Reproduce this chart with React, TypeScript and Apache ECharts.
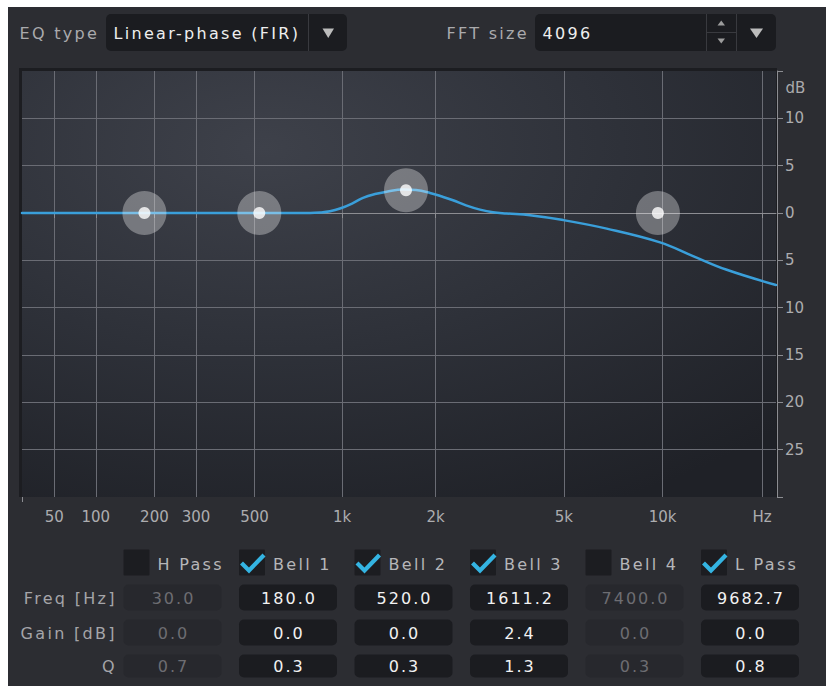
import React, { useEffect, useRef } from "react";
import * as echarts from "echarts";

// ---------- data ----------
const eqTypeLabel = "EQ type";
const eqTypeValue = "Linear-phase (FIR)";
const fftLabel = "FFT size";
const fftValue = "4096";

const tickFreqs = [50, 100, 200, 300, 500, 1000, 2000, 5000, 10000, 20000];
const tickLabels = ["50", "100", "200", "300", "500", "1k", "2k", "5k", "10k", "Hz"];
const freqMin = 20;
const freqMax = 22050;
const dbMin = -30;
const dbMax = 15;
const dbStep = 5;
const dbUnit = "dB";

// response curve (Hz, dB)
const curveFreq = [20, 200, 500, 781, 844, 911, 984, 1078, 1171, 1281, 1397, 1576, 1734, 1920, 2080, 2269, 2492, 2756, 3025, 3336, 3937, 4983, 6765, 9828, 12374, 15650, 22050];
const curveGain = [0, 0, 0, 0, 0.05, 0.18, 0.47, 1.0, 1.6, 2.0, 2.25, 2.48, 2.42, 2.12, 1.77, 1.35, 0.81, 0.36, 0.08, -0.05, -0.24, -0.75, -1.65, -3.1, -4.55, -6.0, -7.6];

const bandNames = ["H Pass", "Bell 1", "Bell 2", "Bell 3", "Bell 4", "L Pass"];
const bandEnabled = [false, true, true, true, false, true];
const bandFreq = [30.0, 180.0, 520.0, 1611.2, 7400.0, 9682.7];
const bandGain = [0.0, 0.0, 0.0, 2.4, 0.0, 0.0];
const bandQ = [0.7, 0.3, 0.3, 1.3, 0.3, 0.8];
const rowLabels = ["Freq [Hz]", "Gain [dB]", "Q"];

// ---------- helpers ----------
// frequency axis warp used by the display (log of f + 100)
const warp = (f: number) => Math.log(f + 100);

const FONT = '"DejaVu Sans", Verdana, sans-serif';
const UI_SIZE = 16;
const UI_TRACK = 2.3;
const VAL_TRACK = 2.0;

export default function App() {
  const ref = useRef<HTMLDivElement>(null);

  useEffect(() => {
    const el = ref.current!;
    const chart = echarts.init(el, null, { renderer: "svg" });
    const tracked = new Map<string, number>();

    const text = (
      s: string,
      x: number,
      y: number,
      fill: string,
      align: "left" | "center" | "right" = "left",
      track = 0,
      size = UI_SIZE
    ) => {
      if (track) tracked.set(s, track);
      const dx = align === "center" ? track / 2 : align === "right" ? track : 0;
      return {
        type: "text",
        x: x + dx,
        y,
        z: 5,
        style: {
          text: s,
          fill,
          font: `${size}px ${FONT}`,
          align,
          verticalAlign: "middle",
        },
      };
    };

    const g: any[] = [];
    // panel background
    g.push({ type: "rect", z: -20, shape: { x: 8, y: 7, width: 818, height: 679 }, style: { fill: "#2c2d32" } });
    // plot frame + background
    g.push({ type: "rect", z: -16, shape: { x: 19, y: 68, width: 758, height: 429 }, style: { fill: "#1c1d21" } });
    g.push({
      type: "rect",
      z: -15,
      shape: { x: 22, y: 71, width: 754, height: 426 },
      style: {
        fill: new echarts.graphic.RadialGradient(0.32, 0.18, 0.95, [
          { offset: 0, color: "#3e414a" },
          { offset: 0.5, color: "#2e3139" },
          { offset: 1, color: "#1f2127" },
        ]),
      },
    });

    // top bar
    g.push(text(eqTypeLabel, 19.5, 33.5, "#aaaaad", "left", UI_TRACK));
    g.push({ type: "rect", z: 1, shape: { x: 106, y: 14, width: 241, height: 37, r: 5 }, style: { fill: "#1b1c20" } });
    g.push({ type: "line", z: 2, shape: { x1: 308.5, y1: 14, x2: 308.5, y2: 51 }, style: { stroke: "#393a3f", lineWidth: 1 } });
    g.push(text(eqTypeValue, 113.5, 33.5, "#eeeeee", "left", UI_TRACK));
    g.push({ type: "polygon", z: 2, shape: { points: [[322.5, 28.5], [334, 28.5], [328.25, 38]] }, style: { fill: "#bcbcbc" } });

    g.push(text(fftLabel, 446.5, 33.5, "#aaaaad", "left", UI_TRACK));
    g.push({ type: "rect", z: 1, shape: { x: 535, y: 14, width: 241, height: 37, r: 5 }, style: { fill: "#1b1c20" } });
    g.push({ type: "line", z: 2, shape: { x1: 706.5, y1: 14, x2: 706.5, y2: 51 }, style: { stroke: "#393a3f", lineWidth: 1 } });
    g.push({ type: "line", z: 2, shape: { x1: 736.5, y1: 14, x2: 736.5, y2: 51 }, style: { stroke: "#393a3f", lineWidth: 1 } });
    g.push({ type: "line", z: 2, shape: { x1: 707, y1: 32.5, x2: 736, y2: 32.5 }, style: { stroke: "#393a3f", lineWidth: 1 } });
    g.push({ type: "polygon", z: 2, shape: { points: [[717.5, 25.5], [725, 25.5], [721.25, 20.5]] }, style: { fill: "#9c9c9c" } });
    g.push({ type: "polygon", z: 2, shape: { points: [[717.5, 38.5], [725, 38.5], [721.25, 43.5]] }, style: { fill: "#9c9c9c" } });
    g.push({ type: "polygon", z: 2, shape: { points: [[750, 28.5], [763, 28.5], [756.5, 38]] }, style: { fill: "#bcbcbc" } });
    g.push(text(fftValue, 542.5, 33.5, "#eeeeee", "left", UI_TRACK));

    // dB unit label + left tick of freq axis
    g.push(text(dbUnit, 785.5, 88, "#a9a9ac", "left", 0, 15));
    g.push({ type: "line", z: 5, shape: { x1: 22.5, y1: 497, x2: 22.5, y2: 502 }, style: { stroke: "#8c8d92", lineWidth: 1 } });

    // table
    const colX = (i: number) => 123.5 + i * 115.5;
    const rowY = [584.5, 619.5, 654.5];
    const rowH = [26, 26, 23];
    bandNames.forEach((name, i) => {
      const x = colX(i);
      g.push({ type: "rect", z: 1, shape: { x, y: 549.5, width: 26, height: 26, r: 1 }, style: { fill: "#1c1d21" } });
      if (bandEnabled[i]) {
        g.push({
          type: "polyline",
          z: 2,
          shape: { points: [[x + 2.5, 563], [x + 10, 570.5], [x + 25, 555]] },
          style: { stroke: "#34b4e2", lineWidth: 4.2, fill: "none" },
        });
      }
      g.push(text(name, x + 34, 564, "#b6b6b9", "left", UI_TRACK));
      const vals = [bandFreq[i], bandGain[i], bandQ[i]];
      vals.forEach((v, r) => {
        g.push({
          type: "rect",
          z: 1,
          shape: { x, y: rowY[r], width: 98, height: rowH[r], r: 5 },
          style: { fill: bandEnabled[i] ? "#1b1c20" : "#27282d" },
        });
        g.push(text(v.toFixed(1), x + 49, rowY[r] + rowH[r] / 2 + 0.5, bandEnabled[i] ? "#f2f2f2" : "#6d6d72", "center", VAL_TRACK));
      });
    });
    rowLabels.forEach((s, r) => {
      g.push(text(s, 114.5, rowY[r] + rowH[r] / 2 + 0.5, "#a5a5a9", "right", UI_TRACK));
    });

    const gridColor = "#6a6c74";
    const axisColor = "#8c8d92";
    const labelColor = "#acacaf";

    const curveData = curveFreq.map((f, i) => [warp(f), curveGain[i]]);
    const handleData = bandFreq
      .map((f, i) => (bandEnabled[i] ? [warp(f), bandGain[i]] : null))
      .filter((d) => d !== null);
    const tickVals = tickFreqs.map(warp);

    const option: any = {
      animation: false,
      backgroundColor: "transparent",
      grid: { left: 22, top: 71, width: 754, height: 426, containLabel: false, show: false },
      xAxis: {
        type: "value",
        min: warp(freqMin),
        max: warp(freqMax),
        axisLine: { show: true, lineStyle: { color: axisColor, width: 1 } },
        axisTick: { show: true, customValues: tickVals, length: 5, lineStyle: { color: axisColor } },
        axisLabel: {
          show: true,
          customValues: tickVals,
          color: labelColor,
          fontSize: 15,
          fontFamily: FONT,
          margin: 12,
          formatter: (v: number) => {
            const i = tickVals.findIndex((t) => Math.abs(t - v) < 1e-6);
            return i >= 0 ? tickLabels[i] : "";
          },
        },
        splitLine: { show: true, lineStyle: { color: gridColor, width: 1 } },
      },
      yAxis: {
        type: "value",
        position: "right",
        offset: 1,
        min: dbMin,
        max: dbMax,
        interval: dbStep,
        axisLine: { show: true, lineStyle: { color: axisColor, width: 1 } },
        axisTick: { show: true, length: 6, lineStyle: { color: axisColor } },
        axisLabel: {
          color: labelColor,
          fontSize: 15,
          fontFamily: FONT,
          margin: 8,
          formatter: (v: number) => (v === dbMax || v === dbMin ? "" : String(Math.abs(v))),
        },
        splitLine: { show: true, showMinLine: false, showMaxLine: false, lineStyle: { color: gridColor, width: 1 } },
      },
      graphic: { elements: g },
      series: [
        {
          type: "line",
          data: curveData,
          smooth: 0.4,
          showSymbol: false,
          symbol: "none",
          z: 3,
          lineStyle: { color: "#3a9fda", width: 2.5, cap: "round", join: "round" },
        },
        {
          type: "scatter",
          data: handleData,
          symbolSize: 44,
          z: 4,
          itemStyle: { color: "rgba(255,255,255,0.4)" },
        },
        {
          type: "scatter",
          data: handleData,
          symbolSize: 12,
          z: 5,
          itemStyle: { color: "#ffffff" },
        },
      ],
    };

    chart.setOption(option);

    const apply = () => {
      el.querySelectorAll("text").forEach((t) => {
        const s = (t.textContent || "").trim();
        const sp = tracked.get(s);
        if (sp) t.setAttribute("letter-spacing", sp + "px");
      });
    };
    chart.on("rendered", apply);
    chart.on("finished", apply);
    apply();
    const timer = setTimeout(apply, 30);
    return () => {
      clearTimeout(timer);
      chart.dispose();
    };
  }, []);

  return <div ref={ref} style={{ position: "absolute", left: 0, top: 0, width: 826, height: 686 }} />;
}
